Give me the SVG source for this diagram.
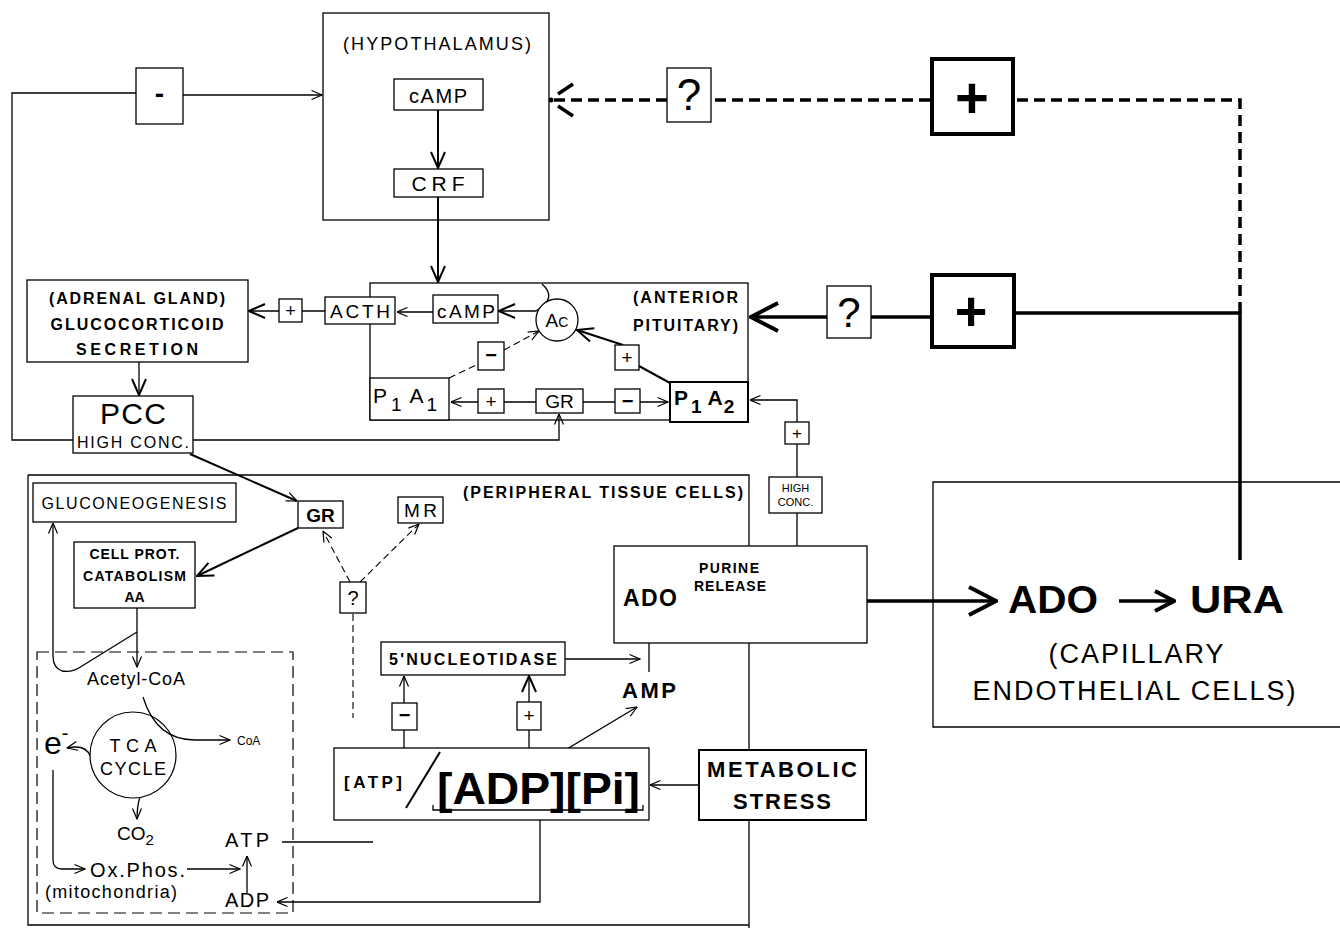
<svg xmlns="http://www.w3.org/2000/svg" width="1340" height="928" viewBox="0 0 1340 928">
<defs>
<style>
text{font-family:"Liberation Sans",Arial,Helvetica,sans-serif;fill:#000}
.b{font-weight:bold}
.m{text-anchor:middle}
.e{text-anchor:end}
.box{fill:#fff;stroke:#000;stroke-width:1.3}
.bx2{fill:#fff;stroke:#000;stroke-width:2}
.bx4{fill:#fff;stroke:#000;stroke-width:4}
.ln{fill:none;stroke:#000;stroke-width:1.3}
.ln2{fill:none;stroke:#000;stroke-width:2}
.ln3{fill:none;stroke:#000;stroke-width:3.5}
.dl{fill:none;stroke:#000;stroke-width:1.1;stroke-dasharray:7 4}
.dd{fill:none;stroke:#000;stroke-width:3.5;stroke-dasharray:11 6}
.dm{fill:none;stroke:#000;stroke-width:1.2;stroke-dasharray:12 6}
</style>
<marker id="a1" markerUnits="userSpaceOnUse" viewBox="0 0 12 12" markerWidth="12" markerHeight="12" refX="11.5" refY="6" orient="auto"><path d="M1,1.5 L11.5,6 L1,10.5" fill="none" stroke="#000" stroke-width="1.2"/></marker>
<marker id="a2" markerUnits="userSpaceOnUse" viewBox="0 0 18 18" markerWidth="18" markerHeight="18" refX="17" refY="9" orient="auto"><path d="M1,2 L17,9 L1,16" fill="none" stroke="#000" stroke-width="2"/></marker>
<marker id="a3" markerUnits="userSpaceOnUse" viewBox="0 0 32 32" markerWidth="32" markerHeight="32" refX="30" refY="16" orient="auto"><path d="M3,2 L30,16 L3,30" fill="none" stroke="#000" stroke-width="4"/></marker>
<marker id="a4" markerUnits="userSpaceOnUse" viewBox="0 0 24 24" markerWidth="24" markerHeight="24" refX="22" refY="12" orient="auto"><path d="M3,2 L22,12 L3,22" fill="none" stroke="#000" stroke-width="4"/></marker>
</defs>
<rect width="1340" height="928" fill="#fff"/>

<g id="hypothalamus">
<rect class="box" x="323" y="13" width="226" height="207"/>
<text class="m" x="437" y="50" font-size="18" textLength="188" lengthAdjust="spacing">(HYPOTHALAMUS)</text>
</g>
<g id="anterior-pituitary">
<rect class="box" x="370" y="283" width="378" height="137"/>
<text class="e b" x="738" y="303" font-size="16" textLength="105" lengthAdjust="spacing">(ANTERIOR</text>
<text class="e b" x="738" y="331" font-size="16" textLength="105" lengthAdjust="spacing">PITUITARY)</text>
</g>
<g id="peripheral-tissue-cells">
<path class="ln" d="M28,475 H749 V546 M749,643 V750 M749,820 V928 M28,475 V925 H749"/>
<text class="e b" x="743" y="498" font-size="16" textLength="280" lengthAdjust="spacing">(PERIPHERAL TISSUE CELLS)</text>
</g>
<g id="mitochondria">
<rect class="dm" x="37" y="652" width="256" height="261"/>
<text x="45" y="898" font-size="18" textLength="132" lengthAdjust="spacing">(mitochondria)</text>
</g>
<g id="capillary-endothelial-cells">
<path class="ln" d="M1340,482 H933 V727 H1340"/>
<text class="m" x="1136" y="663" font-size="27" textLength="175" lengthAdjust="spacing">(CAPILLARY</text>
<text class="m" x="1134" y="700" font-size="27" textLength="323" lengthAdjust="spacing">ENDOTHELIAL CELLS)</text>
</g>

<g id="connectors">
<path class="ln" d="M73,440 H12 V93 H136"/>
<path class="ln" d="M183,95 H322" marker-end="url(#a1)"/>
<path class="ln2" d="M438,110 V168" marker-end="url(#a2)"/>
<path class="ln2" d="M438,197 V282" marker-end="url(#a2)"/>
<path class="dd" d="M1240,313 V100 H1014 M930,100 H711 M667,100 H552"/>
<path d="M573,84 L558,94 M573,116 L558,106" fill="none" stroke="#000" stroke-width="3.5"/>
<circle cx="551" cy="100" r="2.5" fill="#000"/>
<path class="ln3" d="M1240,560 V313 H1016 M932,317 H871 M827,317 H751" marker-end="url(#a3)"/>
<path class="ln" d="M433,312 H397" marker-end="url(#a1)"/>
<path class="ln" d="M325,311 H302 M279,311 H249" marker-end="url(#a2)"/>
<path class="ln" d="M542,284 Q558,298 536,311 H499" marker-end="url(#a2)"/>
<path class="dl" d="M449,378 L478,364"/>
<path class="dl" d="M504,350 L539,331" marker-end="url(#a1)"/>
<path class="ln2" d="M670,383 L639,366"/>
<path class="ln2" d="M623,345 L577,330" marker-end="url(#a2)"/>
<path class="ln" d="M536,402 H504 M478,402 H451" marker-end="url(#a1)"/>
<path class="ln" d="M583,402 H615 M640,402 H668" marker-end="url(#a1)"/>
<path class="ln" d="M193,440 H559 V414" marker-end="url(#a1)"/>
<path class="ln2" d="M190,454 L297,501" marker-end="url(#a1)"/>
<path class="ln" d="M797,601 V513 M797,477 V444 M797,422 V400 H750" marker-end="url(#a1)"/>
<path class="ln" d="M139,362 V395" marker-end="url(#a2)"/>
<path class="ln2" d="M298,528 L197,576" marker-end="url(#a2)"/>
<path class="dl" d="M350,582 L323,531" marker-end="url(#a1)"/>
<path class="dl" d="M360,582 L419,524" marker-end="url(#a1)"/>
<path class="dl" d="M353,614 V718"/>
<path class="ln" d="M137,608 V667" marker-end="url(#a1)"/>
<path class="ln" d="M137,632 L82,666 Q72,673 62,671 Q53,668 53,656 V523" marker-end="url(#a1)"/>
<path class="ln" d="M143,697 C150,720 165,740 195,740 H230" marker-end="url(#a1)"/>
<path class="ln" d="M90,756 Q86,744 67,748" marker-end="url(#a1)"/>
<path class="ln" d="M140,797 Q137,806 137,819" marker-end="url(#a1)"/>
<path class="ln" d="M53,770 V860 Q53,869 62,869 H85" marker-end="url(#a1)"/>
<path class="ln" d="M187,869 H240" marker-end="url(#a1)"/>
<path class="ln" d="M247,893 V856" marker-end="url(#a1)"/>
<path class="ln" d="M282,842 H373"/>
<path class="ln" d="M373,820 V802" marker-end="url(#a1)"/>
<path class="ln" d="M540,820 V902 H277" marker-end="url(#a1)"/>
<path class="ln" d="M404,748 V730 M404,703 V676" marker-end="url(#a1)"/>
<path class="ln" d="M529,748 V730 M529,702 V676" marker-end="url(#a2)"/>
<path class="ln" d="M565,659 H640" marker-end="url(#a1)"/>
<path class="ln" d="M532,770 L637,707" marker-end="url(#a1)"/>
<path class="ln" d="M649,672 V619" marker-end="url(#a1)"/>
<path class="ln3" d="M688,601 H996" marker-end="url(#a3)"/>
<path class="ln3" d="M1119,601 H1174" marker-end="url(#a4)"/>
<path class="ln" d="M699,785 H650" marker-end="url(#a1)"/>
</g>

<g id="minus-feedback">
<rect class="box" x="136" y="68" width="47" height="56"/>
<text class="m b" x="159.5" y="103" font-size="28">-</text>
</g>
<g id="hyp-camp">
<rect class="box" x="394" y="79" width="89" height="31"/>
<text class="m" x="438" y="103" font-size="20" textLength="58" lengthAdjust="spacing">cAMP</text>
</g>
<g id="crf">
<rect class="box" x="394" y="169" width="89" height="28"/>
<text class="m" x="438" y="191" font-size="21" textLength="53" lengthAdjust="spacing">CRF</text>
</g>
<g id="q-top">
<rect class="box" x="667" y="68" width="44" height="54" stroke-width="1.6"/>
<text class="m" x="689" y="110" font-size="44">?</text>
</g>
<g id="plus-top">
<rect class="bx4" x="932" y="59" width="81" height="75"/>
<text class="m b" x="972" y="118" font-size="58">+</text>
</g>
<g id="plus-mid">
<rect class="bx4" x="932" y="275" width="82" height="72"/>
<text class="m b" x="971" y="330" font-size="56">+</text>
</g>
<g id="q-mid">
<rect class="box" x="827" y="286" width="44" height="52" stroke-width="1.8"/>
<text class="m" x="849" y="327" font-size="42">?</text>
</g>
<g id="acth">
<rect class="box" x="325" y="297" width="70" height="27"/>
<text class="m" x="360" y="318" font-size="19" textLength="60" lengthAdjust="spacing">ACTH</text>
</g>
<g id="pit-camp">
<rect class="box" x="433" y="295" width="65" height="28"/>
<text class="m" x="466" y="318" font-size="19" textLength="58" lengthAdjust="spacing">cAMP</text>
</g>
<g id="ac">
<circle cx="557" cy="320" r="21" fill="#fff" stroke="#000" stroke-width="1.3"/>
<text class="m" x="557" y="327" font-size="19">A<tspan font-size="14">C</tspan></text>
</g>
<g id="minus-ac">
<rect class="box" x="478" y="342" width="26" height="28"/>
<text class="m b" x="491" y="362" font-size="20">−</text>
</g>
<g id="plus-ac">
<rect class="box" x="615" y="345" width="24" height="25"/>
<text class="m" x="627" y="364" font-size="19">+</text>
</g>
<g id="p1a1">
<rect class="box" x="370" y="378" width="79" height="42"/>
<text x="373" y="403" font-size="21">P<tspan font-size="19" dx="4" dy="8">1</tspan><tspan dx="8" dy="-8">A</tspan><tspan font-size="19" dx="3" dy="8">1</tspan></text>
</g>
<g id="plus-gr">
<rect class="box" x="478" y="389" width="26" height="24"/>
<text class="m" x="491" y="408" font-size="19">+</text>
</g>
<g id="gr-pit">
<rect class="box" x="536" y="389" width="47" height="24"/>
<text class="m" x="559.5" y="408" font-size="19">GR</text>
</g>
<g id="minus-gr">
<rect class="box" x="615" y="389" width="25" height="24"/>
<text class="m b" x="627.5" y="408" font-size="20">−</text>
</g>
<g id="p1a2">
<rect class="bx2" x="670" y="382" width="78" height="40"/>
<text class="b" x="674" y="405" font-size="21">P<tspan font-size="19" dx="3" dy="8">1</tspan><tspan dx="6" dy="-8">A</tspan><tspan font-size="19" dx="1" dy="8">2</tspan></text>
</g>
<g id="plus-acth">
<rect class="box" x="279" y="299" width="23" height="23"/>
<text class="m" x="290.5" y="317" font-size="18">+</text>
</g>
<g id="adrenal-gland">
<rect class="box" x="27" y="280" width="221" height="82"/>
<text class="m b" x="137" y="304" font-size="16" textLength="176" lengthAdjust="spacing">(ADRENAL GLAND)</text>
<text class="m b" x="137" y="330" font-size="16" textLength="173" lengthAdjust="spacing">GLUCOCORTICOID</text>
<text class="m b" x="137" y="355" font-size="16" textLength="122" lengthAdjust="spacing">SECRETION</text>
</g>
<g id="pcc">
<rect class="box" x="73" y="396" width="120" height="57"/>
<text class="m" x="133" y="424" font-size="30" textLength="66" lengthAdjust="spacing">PCC</text>
<text class="m" x="133" y="448" font-size="16" textLength="112" lengthAdjust="spacing">HIGH CONC.</text>
</g>
<g id="gluconeogenesis">
<rect class="box" x="33" y="483" width="203" height="39"/>
<text class="m" x="134" y="509" font-size="16" textLength="185" lengthAdjust="spacing">GLUCONEOGENESIS</text>
</g>
<g id="gr-periph">
<rect class="box" x="298" y="501" width="45" height="27" stroke-width="1.6"/>
<text class="m b" x="320.5" y="522" font-size="19">GR</text>
</g>
<g id="mr">
<rect class="box" x="398" y="497" width="45" height="26"/>
<text class="m" x="420.5" y="517" font-size="19" textLength="33" lengthAdjust="spacing">MR</text>
</g>
<g id="cell-prot">
<rect class="box" x="74" y="542" width="121" height="66"/>
<text class="m b" x="134.5" y="559" font-size="14" textLength="90" lengthAdjust="spacing">CELL PROT.</text>
<text class="m b" x="134.5" y="581" font-size="14" textLength="103" lengthAdjust="spacing">CATABOLISM</text>
<text class="m b" x="134.5" y="602" font-size="14">AA</text>
</g>
<g id="q-receptor">
<rect class="box" x="340" y="582" width="26" height="31" stroke-width="1"/>
<text class="m" x="353" y="605" font-size="20">?</text>
</g>
<g id="acetyl-coa">
<text x="87" y="685" font-size="18" textLength="98" lengthAdjust="spacing">Acetyl-CoA</text>
</g>
<g id="tca-cycle">
<circle cx="133" cy="755" r="43" fill="none" stroke="#000" stroke-width="1.2"/>
<text class="m" x="133" y="752" font-size="18" textLength="47" lengthAdjust="spacing">TCA</text>
<text class="m" x="133" y="775" font-size="18" textLength="66" lengthAdjust="spacing">CYCLE</text>
</g>
<g id="coa"><text x="237" y="745" font-size="12">CoA</text></g>
<g id="electron"><text x="44" y="754" font-size="32">e<tspan font-size="20" dy="-14">-</tspan></text></g>
<g id="co2"><text x="117" y="840" font-size="19">CO<tspan font-size="15" dy="5">2</tspan></text></g>
<g id="ox-phos"><text x="90" y="877" font-size="20" textLength="95" lengthAdjust="spacing">Ox.Phos.</text></g>
<g id="atp-mito"><text x="225" y="847" font-size="20" textLength="44" lengthAdjust="spacing">ATP</text></g>
<g id="adp-mito"><text x="225" y="907" font-size="20" textLength="44" lengthAdjust="spacing">ADP</text></g>
<g id="nucleotidase">
<rect class="box" x="381" y="642" width="184" height="33"/>
<text class="m b" x="473" y="665" font-size="16" textLength="168" lengthAdjust="spacing">5'NUCLEOTIDASE</text>
</g>
<g id="minus-nuc">
<rect class="box" x="392" y="703" width="25" height="27"/>
<text class="m b" x="404.5" y="722" font-size="20">−</text>
</g>
<g id="plus-nuc">
<rect class="box" x="517" y="702" width="24" height="28"/>
<text class="m" x="529" y="722" font-size="19">+</text>
</g>
<g id="amp"><text class="b" x="622" y="698" font-size="22" textLength="54" lengthAdjust="spacing">AMP</text></g>
<g id="atp-ratio">
<rect class="box" x="334" y="748" width="315" height="72"/>
<text class="b" x="344" y="788" font-size="17" textLength="58" lengthAdjust="spacing">[ATP]</text>
<path class="ln2" d="M406,808 L440,752"/>
<text class="b" x="437" y="804" font-size="44" textLength="203" lengthAdjust="spacingAndGlyphs">[ADP][Pi]</text>
<path class="ln" d="M433,805 V810 H643 V805"/>
</g>
<g id="metabolic-stress">
<rect class="bx2" x="699" y="750" width="167" height="70"/>
<text class="m b" x="782" y="777" font-size="22" textLength="150" lengthAdjust="spacing">METABOLIC</text>
<text class="m b" x="782" y="809" font-size="22" textLength="98" lengthAdjust="spacing">STRESS</text>
</g>
<g id="purine-release">
<rect class="box" x="614" y="546" width="253" height="97"/>
<text class="b" x="623" y="606" font-size="23" textLength="54" lengthAdjust="spacing">ADO</text>
<text class="m b" x="729" y="573" font-size="14" textLength="60" lengthAdjust="spacing">PURINE</text>
<text class="m b" x="730" y="591" font-size="14" textLength="72" lengthAdjust="spacing">RELEASE</text>
</g>
<g id="high-conc">
<rect class="box" x="769" y="477" width="53" height="36"/>
<text class="m" x="795.5" y="492" font-size="11">HIGH</text>
<text class="m" x="795.5" y="506" font-size="11">CONC.</text>
</g>
<g id="plus-highconc">
<rect class="box" x="785" y="422" width="24" height="22"/>
<text class="m" x="797" y="439" font-size="17">+</text>
</g>
<g id="ado-capillary"><text class="b" x="1008" y="613" font-size="38" textLength="90" lengthAdjust="spacingAndGlyphs">ADO</text></g>
<g id="ura"><text class="b" x="1190" y="613" font-size="38" textLength="94" lengthAdjust="spacingAndGlyphs">URA</text></g>
</svg>
